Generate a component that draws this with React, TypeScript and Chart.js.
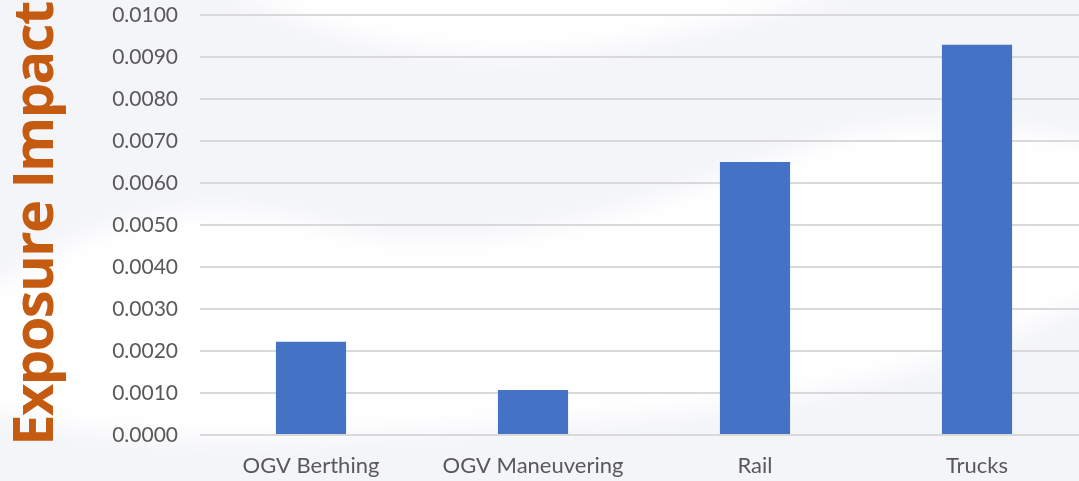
import React, { useEffect, useRef } from "react";
import { Chart, registerables } from "chart.js";

Chart.register(...registerables);

const categories: string[] = ["OGV Berthing", "OGV Maneuvering", "Rail", "Trucks"];
const exposureValues: number[] = [0.00222, 0.00107, 0.0065, 0.00929];
const yMin = 0;
const yMax = 0.01;
const yStep = 0.001;
const axisTitle = "Exposure Impact";

const backgroundPlugin = {
  id: "bgWaves",
  beforeDraw(chart: any) {
    const { ctx, width, height } = chart;
    ctx.save();
    ctx.fillStyle = "#f4f5f8";
    ctx.fillRect(0, 0, width, height);
    ctx.filter = "blur(14px)";
    ctx.fillStyle = "#ffffff";
    // top white wedge
    ctx.beginPath();
    ctx.moveTo(width * 0.2, -20);
    ctx.bezierCurveTo(width * 0.3, height * 0.1, width * 0.45, height * 0.15, width * 0.6, height * 0.08);
    ctx.bezierCurveTo(width * 0.7, height * 0.03, width * 0.75, 0, width * 0.8, -20);
    ctx.closePath();
    ctx.fill();
    // main white wave
    ctx.beginPath();
    ctx.moveTo(-20, height * 0.62);
    ctx.bezierCurveTo(width * 0.08, height * 0.45, width * 0.18, height * 0.4, width * 0.3, height * 0.47);
    ctx.bezierCurveTo(width * 0.45, height * 0.56, width * 0.6, height * 0.42, width * 0.75, height * 0.3);
    ctx.bezierCurveTo(width * 0.85, height * 0.22, width * 0.95, height * 0.28, width + 20, height * 0.3);
    ctx.lineTo(width + 20, height * 0.6);
    ctx.bezierCurveTo(width * 0.85, height * 0.8, width * 0.7, height * 0.85, width * 0.5, height * 0.88);
    ctx.bezierCurveTo(width * 0.3, height * 0.9, width * 0.15, height * 0.95, -20, height * 0.85);
    ctx.closePath();
    ctx.fill();
    ctx.restore();
  },
};

const titlePlugin = {
  id: "rotatedTitle",
  afterDraw(chart: any) {
    const { ctx, chartArea } = chart;
    ctx.save();
    const cy = (chartArea.top + chartArea.bottom) / 2 - 1;
    ctx.translate(53, cy);
    ctx.rotate(-Math.PI / 2);
    ctx.font = "bold 56px 'Open Sans'";
    try {
      (ctx as any).letterSpacing = "-1.6px";
    } catch (e) {}
    ctx.fillStyle = "#C55A11";
    ctx.textAlign = "center";
    ctx.textBaseline = "alphabetic";
    ctx.fillText(axisTitle, 0, 0);
    ctx.restore();
  },
};

export default function App() {
  const canvasRef = useRef<HTMLCanvasElement | null>(null);

  useEffect(() => {
    let chart: Chart | null = null;
    let cancelled = false;
    const fontsReady = (document as any).fonts
      ? Promise.all([
          (document as any).fonts.load("21px Lato"),
          (document as any).fonts.load("bold 56px 'Open Sans'"),
        ]).catch(() => null)
      : Promise.resolve(null);
    fontsReady.then(() => {
      if (cancelled || !canvasRef.current) return;
      chart = new Chart(canvasRef.current, {
        type: "bar",
        data: {
          labels: categories,
          datasets: [
            {
              label: axisTitle,
              data: exposureValues,
              backgroundColor: "#4472C4",
              borderWidth: 0,
              categoryPercentage: 1,
              barPercentage: 0.316,
            },
          ],
        },
        options: {
          animation: false,
          responsive: false,
          maintainAspectRatio: false,
          layout: { padding: { top: 15, right: 1, left: 0, bottom: 0 } },
          plugins: {
            legend: { display: false },
            tooltip: { enabled: false },
          },
          scales: {
            x: {
              grid: { display: false, drawTicks: false },
              border: { display: false },
              ticks: {
                color: "#595959",
                font: { family: "Lato", size: 22 },
                padding: 18,
                maxRotation: 0,
                autoSkip: false,
              },
              afterFit: (scale: any) => {
                scale.height = 46;
              },
            },
            y: {
              min: yMin,
              max: yMax,
              grid: { color: "#d9d9d9", lineWidth: 2, drawTicks: false },
              border: { display: false },
              ticks: {
                stepSize: yStep,
                color: "#595959",
                font: { family: "Lato", size: 21 },
                padding: 22,
                callback: (v: any) => Number(v).toFixed(4),
              },
              title: { display: false },
              afterFit: (scale: any) => {
                scale.width = 200;
                scale.paddingTop = 0;
              },
            },
          },
        },
        plugins: [backgroundPlugin, titlePlugin],
      });
    });
    return () => {
      cancelled = true;
      if (chart) chart.destroy();
    };
  }, []);

  return (
    <div
      style={{
        position: "fixed",
        left: 0,
        top: 0,
        width: 1079,
        height: 481,
        overflow: "hidden",
        background: "#f5f6f9",
      }}
    >
      <canvas ref={canvasRef} width={1089} height={481} style={{ display: "block", width: 1089, height: 481 }} />
    </div>
  );
}
